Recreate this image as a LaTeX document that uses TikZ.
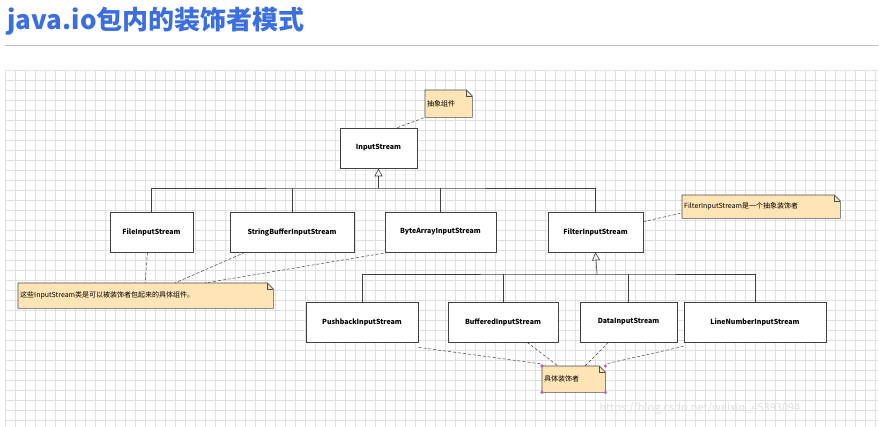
\documentclass[tikz,border=0pt]{standalone}
\usepackage{fontspec}
\setmainfont{Noto Sans CJK SC}
\usetikzlibrary{arrows.meta}
\definecolor{titleblue}{HTML}{3B6FE0}
\definecolor{notefill}{HTML}{FFE4B5}
\tikzset{
 cls/.style={draw=black!75,fill=white,minimum height=40pt,font=\fontsize{7}{8}\selectfont\bfseries,line width=0.7pt},
 note/.style={fill=notefill,font=\fontsize{7}{8}\selectfont,anchor=north west,inner sep=2pt,align=left},
 nl/.style={densely dashed,black!75,line width=0.5pt},
 inh/.style={black!75,line width=0.6pt},
}
\begin{document}
\begin{tikzpicture}[x=1pt,y=-1pt]
\useasboundingbox (0,0) rectangle (879,427);
\fill[white] (0,0) rectangle (879,427);
\node[anchor=west,text=titleblue,font=\fontsize{26}{29}\selectfont\bfseries] (title) at (4,21) {java.io包内的装饰者模式};
\draw[black!25,line width=0.8pt] (5,45) -- (878,45);
% grid
\foreach \i in {0,...,87} \draw[black!12,line width=0.4pt] (5+10*\i,70) -- (5+10*\i,427);
\foreach \j in {0,...,35} \draw[black!12,line width=0.4pt] (5,70+10*\j) -- (878,70+10*\j);
% classes
\node[cls,minimum width=77pt] (is) at (378.5,148) {InputStream};
\node[cls,minimum width=83pt] (fis) at (151.5,232) {FileInputStream};
\node[cls,minimum width=124pt] (sbis) at (292,232) {StringBufferInputStream};
\node[cls,minimum width=111pt] (bais) at (440.5,232) {ByteArrayInputStream};
\node[cls,minimum width=95pt] (fil) at (595.5,232) {FilterInputStream};
\node[cls,minimum width=112pt] (pb) at (362,322) {PushbackInputStream};
\node[cls,minimum width=110pt] (bf) at (503,322) {BufferedInputStream};
\node[cls,minimum width=97pt] (da) at (628.5,322) {DataInputStream};
\node[cls,minimum width=142pt] (ln) at (755,322) {LineNumberInputStream};
% notes
\node[note,text width=43pt,minimum height=27pt] (n1) at (425,90) {抽象组件};
\node[note,text width=154pt,minimum height=23pt] (n2) at (682,195) {FilterInputStream是一个抽象装饰者};
\node[note,text width=251pt,minimum height=25pt] (n3) at (18,283) {这些InputStream类是可以被装饰者包起来的具体组件。};
\node[note,text width=59pt,minimum height=26pt] (n4) at (542,366) {具体装饰者};
\foreach \n in {n1,n2,n3,n4}{
  \fill[white] ([xshift=-6pt]\n.north east) -- (\n.north east) -- ([yshift=-6pt]\n.north east) -- cycle;
  \draw[black!70,line width=0.6pt] ([xshift=-6pt]\n.north east) -- ([yshift=-6pt]\n.north east) -- (\n.south east) -- (\n.south west) -- (\n.north west) -- cycle;
  \draw[black!70,line width=0.5pt] ([xshift=-6pt]\n.north east) -- ([xshift=-6pt,yshift=-6pt]\n.north east) -- ([yshift=-6pt]\n.north east);
}
% inheritance
\coordinate (b1) at (378.5,188);
\draw[inh] (fis.north) |- (b1) -| (fil.north);
\draw[inh] (sbis.north) -- (sbis.north|-b1);
\draw[inh] (bais.north) -- (bais.north|-b1);
\draw[inh,-{Triangle[open,length=8pt,width=8pt]}] (b1) -- (is.south);
\coordinate (b2) at (597,274);
\draw[inh] (pb.north) |- (b2) -| (ln.north);
\draw[inh] (bf.north) -- (bf.north|-b2);
\draw[inh] (da.north) -- (da.north|-b2);
\draw[inh,-{Triangle[open,length=8pt,width=8pt]}] (b2) -- (fil.south);
% note links
\draw[nl] (is.north east)++(-20,0) -- (n1.south west);
\draw[nl] ([yshift=-10pt]fil.north east) -- ([yshift=-18pt]n2.north west);
\draw[nl] ([xshift=-4pt]fis.south) -- ([xshift=127pt]n3.north west);
\draw[nl] ([xshift=-47pt]sbis.south) -- ([xshift=157pt]n3.north west);
\draw[nl] ([xshift=-52pt]bais.south) -- ([xshift=187pt]n3.north west);
\draw[nl] ([yshift=-5pt]pb.south east) -- ([yshift=2pt]n4.north west);
\draw[nl] ([xshift=24pt]bf.south) -- ([xshift=16pt]n4.north west);
\draw[nl] ([xshift=-20pt]da.south) -- ([xshift=43pt]n4.north west);
\draw[nl] ([yshift=-4pt]ln.south west) -- ([yshift=2pt]n4.north east);
\foreach \c in {north west,north east,south west,south east}
  \fill[violet!60] (n4.\c) circle (1.8pt);
\node[anchor=west,text=black!12,font=\fontsize{11}{12}\selectfont] (wm) at (596,408) {https://blog.csdn.net/weixin\_45393094};
\end{tikzpicture}
\end{document}
